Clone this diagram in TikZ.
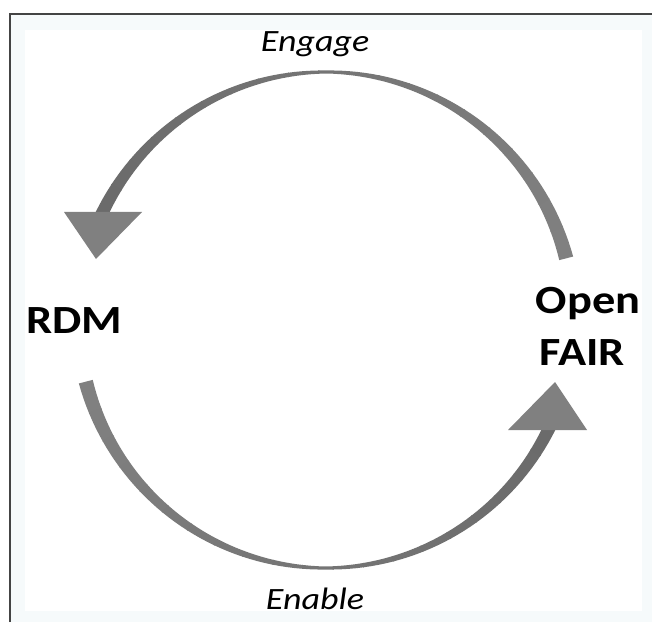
\documentclass[tikz,border=0pt]{standalone}
\usepackage{fontspec}
\setmainfont{Carlito}
\usepackage{xcolor}

\definecolor{framegray}{HTML}{444444}
\definecolor{bandblue}{HTML}{F6FAFB}
\definecolor{darkarc}{HTML}{6A6A6A}
\definecolor{lightarc}{HTML}{808080}

\tikzset{
	bigword/.style={font=\fontsize{40}{44}\selectfont\bfseries, xscale=1.16, anchor=base, inner sep=0pt},
	smallword/.style={font=\fontsize{31}{34}\selectfont\itshape, xscale=1.16, anchor=base, inner sep=0pt},
	headfill/.style={fill=lightarc}
}

\begin{document}
\begin{tikzpicture}[x=1pt,y=1pt]
	
	\useasboundingbox (0,0) rectangle (652,622);
	
	% frame
	\fill[bandblue] (10,0) rectangle (652,608);
	\fill[white] (25,11) rectangle (642,592);
	\draw[framegray, line width = 2pt] (10,0) -- (10,608) -- (652,608);
	
	% tapered arcs, dark at the tail and lighter at the head
	\begin{scope}[shift={(326,302)}]
		\foreach \i [evaluate=\i as \a using 14.4+\i*7.01,
		             evaluate=\i as \b using 14.4+(\i+1)*7.01+0.3,
		             evaluate=\i as \pct using 100-\i*5] in {0,...,19}{
			\fill[lightarc!\pct!darkarc] plot[domain=\a:\b, samples=5] (\x:{249.5+0.075*abs(\x-90)})
				-- plot[domain=\b:\a, samples=5] (\x:{246.5-0.075*abs(\x-90)}) -- cycle;
			\fill[lightarc!\pct!darkarc] plot[domain=\a+180:\b+180, samples=5] (\x:{249.5+0.075*abs(\x-270)})
				-- plot[domain=\b+180:\a+180, samples=5] (\x:{246.5-0.075*abs(\x-270)}) -- cycle;
		}
	\end{scope}
	
	% arrow heads
	\fill[headfill] (64,410) -- (142,410) -- (96,363) -- cycle;
	\fill[headfill] (508,192) -- (587,192) -- (555,240) -- cycle;
	
	% labels
	\node[smallword] (engage) at (315,570) {Engage};
	\node[smallword] (enable) at (315,13) {Enable};
	\node[bigword] (rdm) at (74,289) {RDM};
	\node[bigword] (open) at (588,309) {Open};
	\node[bigword] (fair) at (582,257) {FAIR};
	
\end{tikzpicture}
\end{document}
